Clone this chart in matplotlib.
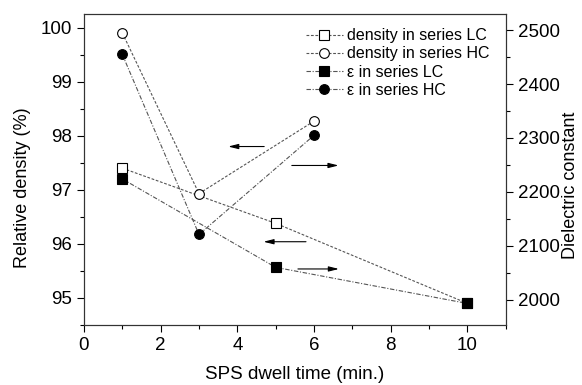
import matplotlib.pyplot as plt
from matplotlib.ticker import MultipleLocator

plt.rcParams['font.family'] = ['Liberation Sans', 'DejaVu Sans']

# dwell time (min.) and measured values
time_lc = [1, 5, 10]
time_hc = [1, 3, 6]
density_lc = [97.40, 96.38, 94.90]
density_hc = [99.90, 96.93, 98.27]
eps_lc = [2224, 2060, 1993]
eps_hc = [2455, 2121, 2305]

# arrows pointing to the axis each curve belongs to: (x_tail, x_head, y)
arrows_left = [(4.70, 3.76, 97.80), (5.79, 4.68, 96.04)]
arrows_right = [(5.42, 6.64, 2249), (5.58, 6.65, 2057)]


def main():
    fig = plt.figure(figsize=(5.82, 3.85), dpi=100)
    ax = fig.add_axes([0.1443, 0.1558, 0.7247, 0.8078])
    ax2 = ax.twinx()

    line_kw = dict(color='#555555', lw=0.8, markersize=7, markeredgewidth=0.8,
                   markeredgecolor='black')
    h1, = ax.plot(time_lc, density_lc, ls=(0, (2.5, 1.5)), marker='s',
                  markerfacecolor='white', label='density in series LC', **line_kw)
    h2, = ax.plot(time_hc, density_hc, ls=(0, (2.5, 1.5)), marker='o',
                  markerfacecolor='white', label='density in series HC', **line_kw)
    h3, = ax2.plot(time_lc, eps_lc, ls=(0, (4, 1.5, 1, 1.5)), marker='s',
                   markerfacecolor='black', label='\u03b5 in series LC', **line_kw)
    h4, = ax2.plot(time_hc, eps_hc, ls=(0, (4, 1.5, 1, 1.5)), marker='o',
                   markerfacecolor='black', label='\u03b5 in series HC', **line_kw)

    arrow_kw = dict(arrowstyle='-|>,head_length=0.6,head_width=0.15',
                    color='black', lw=0.8, shrinkA=0, shrinkB=0)
    for x0, x1, y in arrows_left:
        ax.annotate('', xy=(x1, y), xytext=(x0, y), arrowprops=arrow_kw)
    for x0, x1, y in arrows_right:
        ax2.annotate('', xy=(x1, y), xytext=(x0, y), arrowprops=arrow_kw)

    ax.set_xlim(0, 11)
    ax.set_ylim(94.5, 100.25)
    ax2.set_ylim(1953, 2530)

    ax.xaxis.set_major_locator(MultipleLocator(2))
    ax.xaxis.set_minor_locator(MultipleLocator(1))
    ax.yaxis.set_major_locator(MultipleLocator(1))
    ax.yaxis.set_minor_locator(MultipleLocator(0.5))
    ax2.yaxis.set_major_locator(MultipleLocator(100))
    ax2.yaxis.set_minor_locator(MultipleLocator(50))

    for a in (ax, ax2):
        a.tick_params(which='major', length=5, width=0.8, labelsize=13.5)
        a.tick_params(which='minor', length=3, width=0.8)
        for s in a.spines.values():
            s.set_linewidth(0.8)
            s.set_color('#333333')

    ax.set_xlabel('SPS dwell time (min.)', fontsize=13.5, labelpad=9)
    ax.set_ylabel('Relative density (%)', fontsize=13, labelpad=7, y=0.44)
    ax2.set_ylabel('Dielectric constant', fontsize=13, labelpad=2, y=0.45)

    ax.legend(handles=[h1, h2, h3, h4], loc='upper right',
              bbox_to_anchor=(0.985, 0.985), frameon=False, fontsize=11.5,
              handlelength=2.3, handletextpad=0.3, labelspacing=0.2,
              borderaxespad=0.2)

    fig.savefig('out.png', dpi=100)
    plt.close(fig)


if __name__ == '__main__':
    main()
